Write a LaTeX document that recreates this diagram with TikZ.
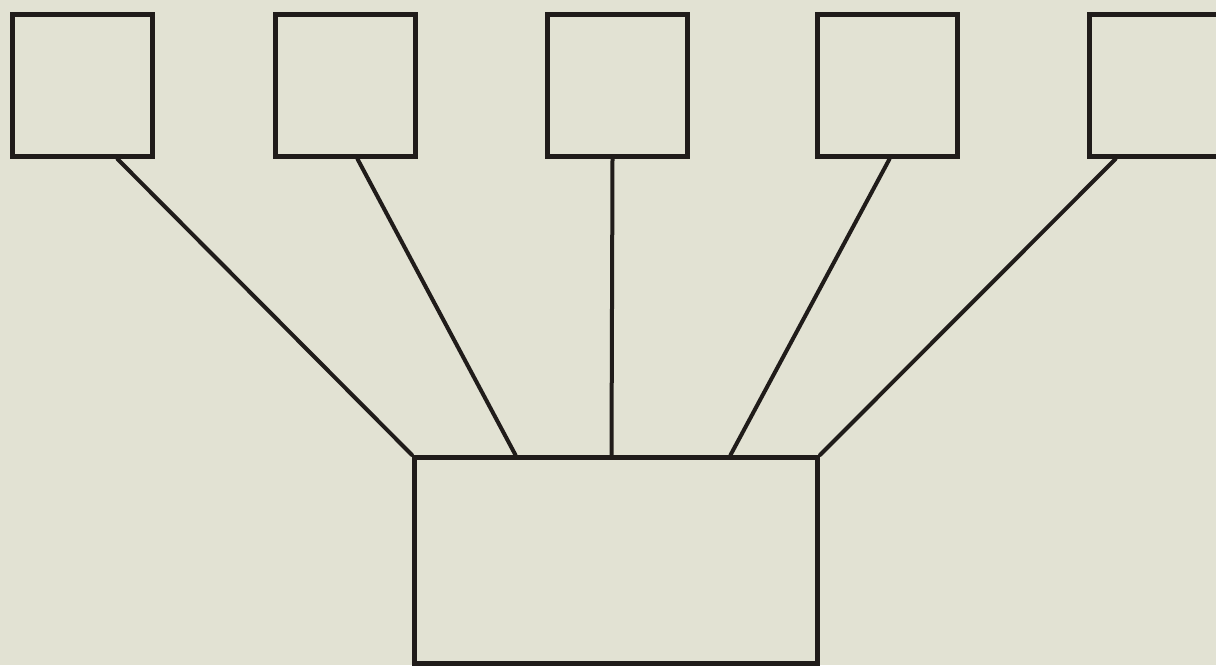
\documentclass[tikz,border=0pt]{standalone}
\definecolor{paper}{RGB}{226,226,211}
\definecolor{ink}{RGB}{32,28,26}
\begin{document}
\begin{tikzpicture}[x=1pt,y=-1pt,
  box/.style={draw=ink,line width=5pt,rectangle,inner sep=0pt,minimum width=140pt,minimum height=142pt,anchor=north west},
  link/.style={draw=ink,line width=4pt,line cap=round}]
\fill[paper] (0,0) rectangle (1216,665);
\useasboundingbox (0,0) rectangle (1216,665);
\node[box] (b1) at (10,12) {};
\node[box] (b2) at (273,12) {};
\node[box] (b3) at (545,12) {};
\node[box] (b4) at (815,12) {};
\node[box] (b5) at (1087,12) {};
\node[box,minimum width=403pt,minimum height=206pt] (m) at (412,455) {};
\draw[link] ([xshift=35pt]b1.south) -- (m.north west);
\draw[link] ([xshift=12pt]b2.south) -- ([xshift=-100.5pt]m.north);
\draw[link] ([xshift=-5pt]b3.south) -- ([xshift=-4.5pt]m.north);
\draw[link] ([xshift=2pt]b4.south) -- ([xshift=114.5pt]m.north);
\draw[link] ([xshift=-44pt]b5.south) -- (m.north east);
\end{tikzpicture}
\end{document}
